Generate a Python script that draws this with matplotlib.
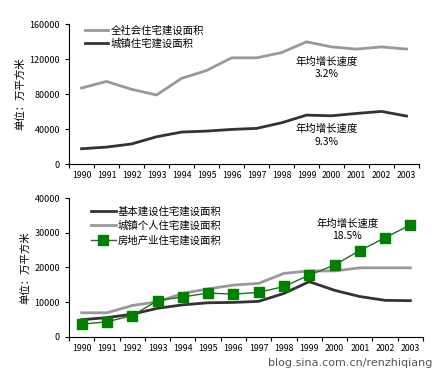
import matplotlib
matplotlib.use("Agg")
import matplotlib.pyplot as plt
import numpy as np

plt.rcParams['font.family'] = ['Noto Sans CJK SC', 'DejaVu Sans']

years = ['1990', '1991', '1992', '1993', '1994', '1995', '1996',
         '1997', '1998', '1999', '2000', '2001', '2002', '2003']

# top chart (万平方米)
all_society = [87000, 94500, 85500, 79000, 98000, 107000, 121500,
               121500, 127500, 139800, 134000, 131500, 134000, 131500]
urban = [17500, 19400, 23000, 31200, 36600, 37700, 39600,
         40800, 47200, 56000, 55200, 57900, 60200, 54900]

# bottom chart
basic_build = [4900, 5500, 6500, 8200, 9200, 9800, 9900,
               10200, 12500, 15900, 13400, 11600, 10500, 10400]
urban_private = [6900, 6900, 9000, 10100, 12500, 13800, 14900,
                 15400, 18300, 19000, 19000, 19900, 19900, 19900]
real_estate = [3600, 4300, 6100, 10400, 11500, 12600, 12300,
               12800, 14500, 17800, 20700, 24900, 28600, 32300]

x = np.arange(len(years))

fig = plt.figure(figsize=(4.37, 3.72), dpi=100)
ax1 = fig.add_axes([0.158, 0.559, 0.801, 0.376])
ax2 = fig.add_axes([0.158, 0.095, 0.810, 0.372])

ax1.plot(x, all_society, color='#999999', lw=2, label='全社会住宅建设面积')
ax1.plot(x, urban, color='#333333', lw=2, label='城镇住宅建设面积')
ax1.set_ylim(0, 160000)
ax1.set_yticks([0, 40000, 80000, 120000, 160000])
ax1.text(9.8, 110500, '年均增长速度\n3.2%', ha='center', va='center', fontsize=7.5, linespacing=1.3)
ax1.text(9.8, 33000, '年均增长速度\n9.3%', ha='center', va='center', fontsize=7.5, linespacing=1.3)
ax1.legend(loc='upper left', bbox_to_anchor=(0.02, 1.06), frameon=False, fontsize=7.5,
           handlelength=2.2, handletextpad=0.2, labelspacing=0.25)

ax2.plot(x, basic_build, color='#333333', lw=2, label='基本建设住宅建设面积')
ax2.plot(x, urban_private, color='#999999', lw=2, label='城镇个人住宅建设面积')
ax2.plot(x, real_estate, color='#1f6f1f', lw=1, marker='s', markersize=7,
         markerfacecolor='#008000', markeredgecolor='#008000', label='房地产业住宅建设面积')
ax2.set_ylim(0, 40000)
ax2.set_yticks([0, 10000, 20000, 30000, 40000])
ax2.text(10.5, 30800, '年均增长速度\n18.5%', ha='center', va='center', fontsize=7.5, linespacing=1.3)
ax2.legend(loc='upper left', bbox_to_anchor=(0.035, 1.01), frameon=False, fontsize=7.5,
           handlelength=2.4, handletextpad=0.2, labelspacing=0.4)

for ax in (ax1, ax2):
    ax.set_xlim(-0.5, len(years) - 0.5)
    ax.set_xticks(np.arange(len(years) + 1) - 0.5)
    ax.set_xticklabels([])
    ax.set_xticks(x, minor=True)
    ax.set_xticklabels(years, minor=True, fontsize=6.3)
    ax.tick_params(axis='x', which='minor', length=0, pad=5)
    ax.tick_params(axis='x', which='major', length=3, direction='out')
    ax.tick_params(axis='y', length=3, direction='out', labelsize=6.5)
    ax.spines['top'].set_visible(False)
    ax.spines['right'].set_visible(False)
    ax.set_ylabel('单位：万平方米', fontsize=7.5, labelpad=3)

fig.text(0.99, 0.017, 'blog.sina.com.cn/renzhiqiang', ha='right', va='baseline',
         fontsize=8, color='#555555', family='DejaVu Sans')

fig.savefig('out.png', dpi=100)
